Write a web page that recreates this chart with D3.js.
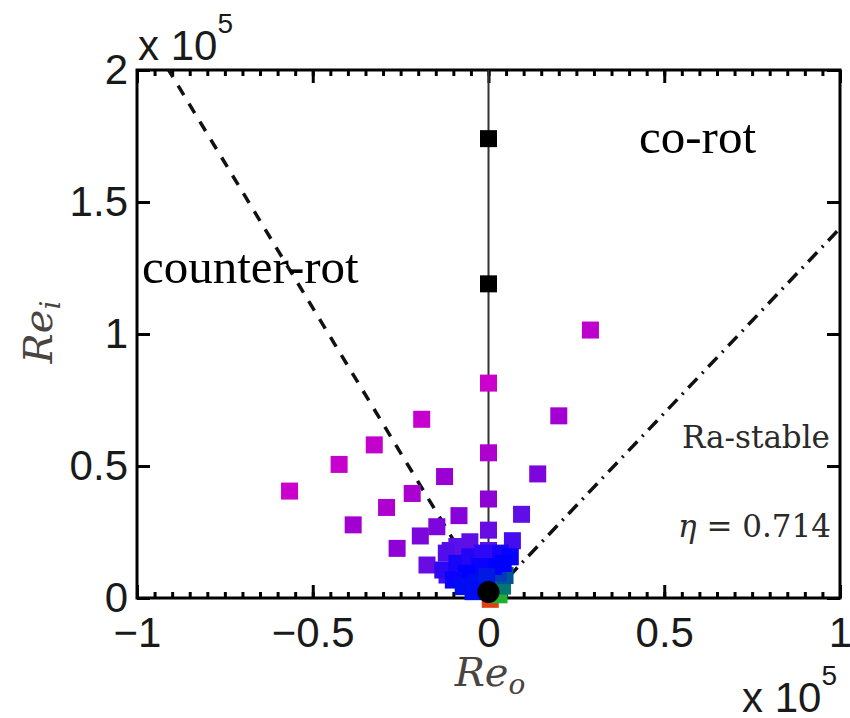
<!DOCTYPE html>
<html>
<head>
<meta charset="utf-8">
<script src="https://cdn.jsdelivr.net/npm/d3@7"></script>
<style>
  body { margin: 0; background: #fff; }
  svg { display: block; }
</style>
</head>
<body>
<div id="chart"></div>
<script>
//// data (values in units of 1e5) - weakest runs first so they sit underneath
var reO = [0.005, 0.03, 0.04, 0.047, 0.028,
           0.29, 0, -0.19, 0.2, -0.325, 0, -0.425, -0.566, -0.125, 0.14,
           -0.217, -0.29, 0, -0.385, -0.084, 0.094, -0.147, -0.194, -0.26, 0,
           0.068, -0.053, -0.109, -0.175, -0.118, 0, -0.09, -0.12, -0.13, -0.09,
           -0.053, -0.016, 0.033, 0.062, 0.042, 0.014, -0.024, -0.062, -0.1, -0.072,
           -0.034, -0.005, -0.044];
var reI = [-0.005, 0.012, 0.045, 0.085, 0.095,
           1.015, 0.814, 0.677, 0.69, 0.58, 0.55, 0.506, 0.405, 0.46, 0.47,
           0.396, 0.343, 0.375, 0.277, 0.312, 0.317, 0.27, 0.235, 0.188, 0.257,
           0.217, 0.213, 0.18, 0.125, 0.087, 0.18, 0.195, 0.17, 0.106, 0.131,
           0.156, 0.17, 0.17, 0.156, 0.131, 0.119, 0.119, 0.094, 0.068, 0.043,
           0.062, 0.081, 0.024];
// colour level of each run (0 = weakest driving, 1 = strongest)
var level = [0.0, 0.1, 0.2, 0.26, 0.3,
             0.95, 1.0, 0.98, 0.85, 0.97, 0.9, 0.98, 1.0, 0.82, 0.72,
             0.88, 0.9, 0.78, 0.85, 0.75, 0.62, 0.72, 0.72, 0.78, 0.65,
             0.55, 0.62, 0.6, 0.65, 0.55, 0.6, 0.6, 0.58, 0.5, 0.45,
             0.48, 0.5, 0.45, 0.42, 0.4, 0.4, 0.42, 0.4, 0.42, 0.38,
             0.38, 0.36, 0.38];

var blackReO = [0, 0];
var blackReI = [1.74, 1.19];
var circleReO = [0];
var circleReI = [0.023];

var eta = 0.714;
var counterLine = [[0, 0], [-0.91, 2]];
var raLine = [[0, 0], [1, 1 / eta]];

var xTicks = [-1, -0.5, 0, 0.5, 1];
var xTickLabels = ["\u22121", "\u22120.5", "0", "0.5", "1"];
var yTicks = [0, 0.5, 1, 1.5, 2];
var yTickLabels = ["0", "0.5", "1", "1.5", "2"];

//// chart
var W = 850, H = 718;
var margin = {left: 137, right: 840, top: 70, bottom: 598};

var svg = d3.select("#chart").append("svg")
    .attr("width", W)
    .attr("height", H);

var x = d3.scaleLinear().domain([-1, 1]).range([margin.left, margin.right]);
var y = d3.scaleLinear().domain([0, 2]).range([margin.bottom, margin.top]);

var color = d3.scaleLinear()
    .domain([0, 0.1, 0.22, 0.4, 0.6, 0.8, 1])
    .range(["#e04010", "#20b030", "#006a80", "#0000ff", "#5a10e8", "#9400d4", "#cc00cc"]);

var font = "'Liberation Sans', Arial, sans-serif";

// minor ticks top + bottom
var minor = d3.range(-1, 1.0001, 0.05);
svg.append("g")
    .attr("transform", "translate(0," + margin.bottom + ")")
    .call(d3.axisBottom(x).tickValues(minor).tickSize(-6).tickFormat(""));
svg.append("g")
    .attr("transform", "translate(0," + margin.top + ")")
    .call(d3.axisTop(x).tickValues(minor).tickSize(-6).tickFormat(""));

// major ticks
var xAxis = svg.append("g")
    .attr("transform", "translate(0," + margin.bottom + ")")
    .call(d3.axisBottom(x).tickValues(xTicks).tickSize(-13).tickPadding(19)
      .tickFormat(function(d, i) { return xTickLabels[i]; }));
svg.append("g")
    .attr("transform", "translate(0," + margin.top + ")")
    .call(d3.axisTop(x).tickValues(xTicks).tickSize(-13).tickFormat(""));
var yAxis = svg.append("g")
    .attr("transform", "translate(" + margin.left + ",0)")
    .call(d3.axisLeft(y).tickValues(yTicks).tickSize(-13).tickPadding(9)
      .tickFormat(function(d, i) { return yTickLabels[i]; }));
svg.append("g")
    .attr("transform", "translate(" + margin.right + ",0)")
    .call(d3.axisRight(y).tickValues(yTicks).tickSize(-13).tickFormat(""));

svg.selectAll(".domain").remove();
svg.selectAll(".tick line").attr("stroke", "#000").attr("stroke-width", 3);
svg.selectAll(".tick text")
    .style("font-family", font)
    .style("font-size", "42px")
    .attr("fill", "#1a1a1a");
xAxis.selectAll(".tick text").attr("dy", "0.71em");

// frame
svg.append("rect")
    .attr("x", margin.left).attr("y", margin.top)
    .attr("width", margin.right - margin.left).attr("height", margin.bottom - margin.top)
    .attr("fill", "none")
    .attr("stroke", "#000")
    .attr("stroke-width", 3);

// x 10^5 multipliers
var m1 = svg.append("text").attr("x", 138).attr("y", 60)
    .style("font-family", font).style("font-size", "42px").attr("fill", "#1a1a1a");
m1.append("tspan").text("x 10");
m1.append("tspan").attr("dy", -27).style("font-size", "28px").text("5");
var m2 = svg.append("text").attr("x", 742).attr("y", 712)
    .style("font-family", font).style("font-size", "42px").attr("fill", "#1a1a1a");
m2.append("tspan").text("x 10");
m2.append("tspan").attr("dy", -27).style("font-size", "28px").text("5");

// axis titles
var xt = svg.append("text")
    .attr("x", 490).attr("y", 686)
    .attr("text-anchor", "middle")
    .style("font-family", "'DejaVu Serif', 'Liberation Serif', serif")
    .style("font-style", "italic")
    .style("font-size", "40px")
    .attr("fill", "#4a4440");
xt.append("tspan").text("Re");
xt.append("tspan").attr("dy", 8).style("font-size", "28px").text("o");

var yt = svg.append("text")
    .attr("transform", "translate(52,332) rotate(-90)")
    .attr("text-anchor", "middle")
    .style("font-family", "'DejaVu Serif', 'Liberation Serif', serif")
    .style("font-style", "italic")
    .style("font-size", "40px")
    .attr("fill", "#4a4440");
yt.append("tspan").text("Re");
yt.append("tspan").attr("dy", 8).style("font-size", "28px").text("i");

//// lines
var line = d3.line().x(function(d) { return x(d[0]); }).y(function(d) { return y(d[1]); });

svg.append("line")
    .attr("x1", x(0)).attr("x2", x(0))
    .attr("y1", y(0)).attr("y2", y(2))
    .attr("stroke", "#333")
    .attr("stroke-width", 2);

svg.append("path")
    .datum(counterLine)
    .attr("d", line)
    .attr("fill", "none")
    .attr("stroke", "#111")
    .attr("stroke-width", 3.5)
    .attr("stroke-dasharray", "11,10");

svg.append("path")
    .datum(raLine)
    .attr("d", line)
    .attr("fill", "none")
    .attr("stroke", "#111")
    .attr("stroke-width", 3.5)
    .attr("stroke-dasharray", "13,7,2,7");

//// points
var s = 17;
var pts = reO.map(function(d, i) { return {o: d, i: reI[i], c: level[i]}; });

svg.selectAll(".pt")
    .data(pts)
    .enter()
    .append("rect")
    .attr("class", "pt")
    .attr("x", function(d) { return x(d.o) - s / 2; })
    .attr("y", function(d) { return y(d.i) - s / 2; })
    .attr("width", s)
    .attr("height", s)
    .attr("fill", function(d) { return color(d.c); });

svg.selectAll(".blk")
    .data(blackReO)
    .enter()
    .append("rect")
    .attr("class", "blk")
    .attr("x", function(d) { return x(d) - s / 2; })
    .attr("y", function(d, i) { return y(blackReI[i]) - s / 2; })
    .attr("width", s)
    .attr("height", s)
    .attr("fill", "#000");

svg.selectAll(".circ")
    .data(circleReO)
    .enter()
    .append("circle")
    .attr("class", "circ")
    .attr("cx", function(d) { return x(d); })
    .attr("cy", function(d, i) { return y(circleReI[i]); })
    .attr("r", 11)
    .attr("fill", "#000");

//// annotations
svg.append("text").attr("x", 639).attr("y", 153)
    .style("font-family", "'Liberation Serif', 'Times New Roman', serif")
    .style("font-size", "49px")
    .attr("fill", "#000")
    .text("co-rot");
svg.append("text").attr("x", 142).attr("y", 283)
    .style("font-family", "'Liberation Serif', 'Times New Roman', serif")
    .style("font-size", "49px")
    .attr("fill", "#000")
    .text("counter-rot");
svg.append("text").attr("x", 682).attr("y", 448)
    .style("font-family", "'DejaVu Serif', serif")
    .style("font-size", "31px")
    .attr("fill", "#2a2a2a")
    .text("Ra-stable");
var et = svg.append("text").attr("x", 678).attr("y", 537)
    .style("font-family", "'DejaVu Serif', serif")
    .style("font-size", "31px")
    .attr("fill", "#2a2a2a");
et.append("tspan").style("font-style", "italic").text("\u03b7");
et.append("tspan").text(" = " + eta);
</script>
</body>
</html>
